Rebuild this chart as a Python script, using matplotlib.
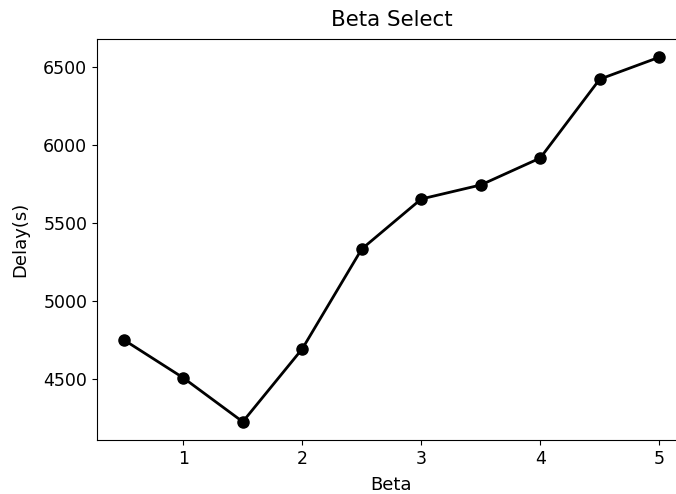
import matplotlib
matplotlib.use("Agg")
import matplotlib.pyplot as plt

# Beta sweep vs. delay
beta = [0.5, 1.0, 1.5, 2.0, 2.5, 3.0, 3.5, 4.0, 4.5, 5.0]
delay = [4750, 4506, 4224, 4692, 5333, 5654, 5744, 5917, 6423, 6564]

plt.rcParams['font.size'] = 12.5

fig = plt.figure(figsize=(6.76, 4.94), dpi=100)
# axes runs past the right edge of the figure, like the reference crop
ax = fig.add_axes([97 / 676, 1 - 440 / 494, 589 / 676, 401 / 494])

ax.plot(beta, delay, color='black', linewidth=2, marker='o', markersize=8)

ax.set_title('Beta Select', fontsize=15.4, pad=9)
ax.set_xlabel('Beta', fontsize=13, labelpad=6)
ax.set_ylabel('Delay(s)', fontsize=13, labelpad=10)
ax.set_xticks([1, 2, 3, 4, 5])
ax.set_yticks([4500, 5000, 5500, 6000, 6500])

fig.savefig('out.png', dpi=100)
